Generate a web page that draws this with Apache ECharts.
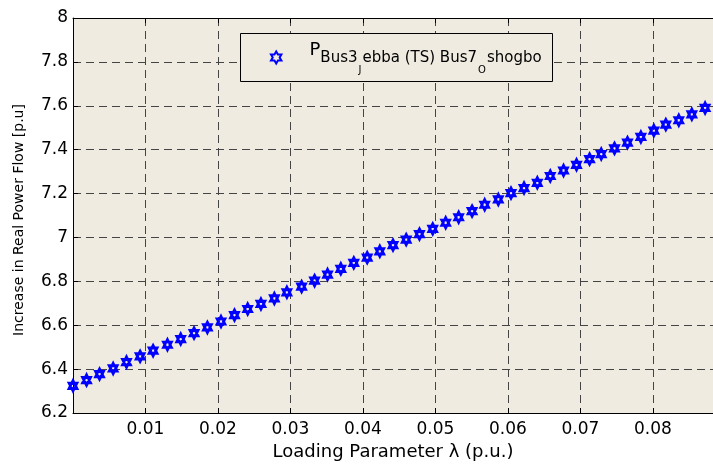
<!DOCTYPE html>
<html>
<head>
<meta charset="utf-8">
<script src="https://cdn.jsdelivr.net/npm/echarts@6/dist/echarts.min.js"></script>
<style>
  html, body { margin: 0; padding: 0; background: #fff; }
  #chart { width: 713px; height: 466px; }
</style>
</head>
<body>
<div id="chart"></div>
<script>
// loading parameter lambda (p.u.)
const lambda = [
  0, 0.00187, 0.00366, 0.00554, 0.00738, 0.00926, 0.01105, 0.01303, 0.01486, 0.01670,
  0.01854, 0.02042, 0.02228, 0.02410, 0.02593, 0.02778, 0.02951, 0.03154, 0.03333, 0.03512,
  0.03695, 0.03874, 0.04059, 0.04233, 0.04415, 0.04597, 0.04780, 0.04963, 0.05142, 0.05321,
  0.05506, 0.05680, 0.05868, 0.06043, 0.06223, 0.06406, 0.06585, 0.06768, 0.06947, 0.07127,
  0.07288, 0.07471, 0.07650, 0.07835, 0.08014, 0.08179, 0.08358, 0.08538, 0.08721
];
// real power flow Bus3 Jebba (TS) -> Bus7 Oshogbo (p.u.)
const flow = [
  6.324, 6.350, 6.377, 6.403, 6.432, 6.458, 6.484, 6.511, 6.537, 6.564,
  6.590, 6.617, 6.646, 6.674, 6.697, 6.722, 6.750, 6.776, 6.803, 6.831,
  6.857, 6.884, 6.908, 6.937, 6.965, 6.990, 7.015, 7.039, 7.067, 7.092,
  7.120, 7.149, 7.173, 7.202, 7.225, 7.249, 7.280, 7.305, 7.331, 7.357,
  7.380, 7.406, 7.432, 7.458, 7.487, 7.514, 7.534, 7.561, 7.590
];
const xTicks = { min: 0, max: 0.0883, step: 0.01 };
const yTicks = { min: 6.2, max: 8, step: 0.2 };
const seriesName = 'P_Bus3_Jebba(TS)_Bus7_Oshogbo';

const FONT = 'DejaVu Sans';
const BG = '#efebe0';
const hexagram = 'path://M100 0L128.87 50L186.6 50L157.74 100L186.6 150L128.87 150L100 200L71.13 150L13.4 150L42.26 100L13.4 50L71.13 50Z';

const gridDash = {
  show: true,
  lineStyle: { color: '#444', width: 1, type: [8, 5] }
};

const option = {
  animation: false,
  backgroundColor: '#fff',
  grid: {
    left: 73,
    right: -1,
    top: 18,
    bottom: 53,
    show: true,
    backgroundColor: BG,
    borderWidth: 0
  },
  graphic: [{
    type: 'rect',
    z: 100,
    shape: { x: 240.5, y: 33.5, width: 312, height: 48 },
    style: { fill: BG, stroke: '#000', lineWidth: 1 }
  }],
  legend: {
    z: 200,
    left: 270,
    top: 41,
    padding: 0,
    itemWidth: 56,
    itemHeight: 12,
    itemGap: 0,
    data: [seriesName],
    // g is an invisible spacer that sets the line height
    formatter: () => '{g| }{p|P}{s|Bus3}{ss|J}{s|ebba (TS) Bus7}{ss|O}{s|shogbo}',
    textStyle: {
      color: '#000',
      fontFamily: FONT,
      rich: {
        g: { fontSize: 1, lineHeight: 33, verticalAlign: 'top' },
        p: { fontFamily: FONT, fontSize: 18, lineHeight: 18, verticalAlign: 'top', color: '#000' },
        s: { fontFamily: FONT, fontSize: 15, lineHeight: 15, verticalAlign: 'top', padding: [10, 0, 0, 0], color: '#000' },
        ss: { fontFamily: FONT, fontSize: 10, lineHeight: 10, verticalAlign: 'top', padding: [24, 1, 0, 1], color: '#000' }
      }
    }
  },
  xAxis: [{
    type: 'value',
    position: 'bottom',
    min: xTicks.min,
    max: xTicks.max,
    interval: xTicks.step,
    name: 'Loading Parameter \u03bb (p.u.)',
    nameLocation: 'middle',
    nameGap: 28,
    nameTextStyle: { fontFamily: FONT, fontSize: 18, color: '#000' },
    axisLine: { show: true, lineStyle: { color: '#000', width: 1 } },
    axisTick: { show: true, inside: true, length: 5, lineStyle: { color: '#000' } },
    axisLabel: {
      color: '#000',
      fontFamily: FONT,
      fontSize: 17,
      margin: 8,
      showMaxLabel: false,
      formatter: v => (v === 0 ? '' : v.toFixed(2))
    },
    splitLine: gridDash
  }, {
    type: 'value',
    position: 'top',
    min: xTicks.min,
    max: xTicks.max,
    interval: xTicks.step,
    axisLine: { show: true, onZero: false, lineStyle: { color: '#000', width: 1 } },
    axisTick: { show: true, inside: true, length: 5, lineStyle: { color: '#000' } },
    axisLabel: { show: false },
    splitLine: { show: false }
  }],
  yAxis: {
    type: 'value',
    min: yTicks.min,
    max: yTicks.max,
    interval: yTicks.step,
    name: 'Increase in Real Power Flow [p.u]',
    nameLocation: 'middle',
    nameGap: 47,
    nameTextStyle: { fontFamily: FONT, fontSize: 14, color: '#000', padding: [0, 9, 0, 0] },
    axisLine: { show: true, lineStyle: { color: '#000', width: 1 } },
    axisTick: { show: true, inside: true, length: 5, lineStyle: { color: '#000' } },
    axisLabel: {
      color: '#000',
      fontFamily: FONT,
      fontSize: 17,
      margin: 5,
      formatter: v => String(parseFloat(v.toFixed(1)))
    },
    splitLine: gridDash
  },
  series: [{
    name: seriesName,
    type: 'scatter',
    xAxisIndex: 0,
    clip: false,
    symbol: hexagram,
    symbolSize: [8.7, 10],
    symbolKeepAspect: true,
    itemStyle: { color: 'rgba(0,0,0,0)', borderColor: '#0000ff', borderWidth: 3, opacity: 1 },
    emphasis: { disabled: true },
    data: lambda.map((l, i) => [l, flow[i]])
  }]
};

const chart = echarts.init(document.getElementById('chart'));
chart.setOption(option);
</script>
</body>
</html>
